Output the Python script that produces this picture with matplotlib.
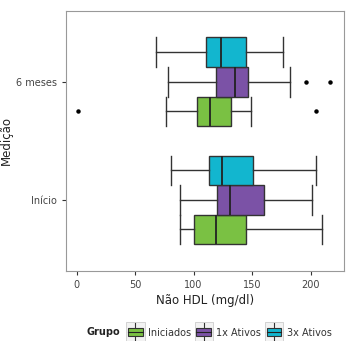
import matplotlib
matplotlib.use("Agg")
import matplotlib.pyplot as plt
from matplotlib.legend_handler import HandlerBase
from matplotlib.patches import Rectangle
from matplotlib.lines import Line2D

# boxplot summaries (mg/dl)
momentos = ["Início", "6 meses"]
grupos = ["Iniciados", "1x Ativos", "3x Ativos"]
cores = ["#7ac143", "#7b52a6", "#12b6cf"]

# [whislo, q1, med, q3, whishi] per momento, per grupo
iniciados = [[88, 100, 119.5, 145, 210], [76, 103, 114, 132, 149]]
ativos_1x = [[88, 120, 131.5, 160, 201.5], [78, 119, 135.5, 146.5, 182]]
ativos_3x = [[80.5, 113, 124, 150.5, 205], [67.5, 111, 123.5, 145, 176.5]]
outliers = {
    "Iniciados": [[], [1, 205]],
    "1x Ativos": [[], [196.5, 217]],
    "3x Ativos": [[], []],
}
series = [iniciados, ativos_1x, ativos_3x]

fig = plt.figure(figsize=(3.46, 3.41), dpi=100)
ax = fig.add_axes([0.191, 0.206, 0.803, 0.762])

largura = 0.25
for g, (nome, cor, dados) in enumerate(zip(grupos, cores, series)):
    stats = []
    for m in range(len(momentos)):
        lo, q1, med, q3, hi = dados[m]
        stats.append(dict(whislo=lo, q1=q1, med=med, q3=q3, whishi=hi,
                          fliers=outliers[nome][m]))
    pos = [m + 1 + (g - 1) * largura for m in range(len(momentos))]
    ax.bxp(stats, positions=pos, widths=largura, orientation="horizontal",
           patch_artist=True, showcaps=True,
           boxprops=dict(facecolor=cor, edgecolor="#333333", linewidth=1.0),
           medianprops=dict(color="#222222", linewidth=1.3),
           whiskerprops=dict(color="#333333", linewidth=1.0),
           capprops=dict(color="#333333", linewidth=1.0),
           capwidths=largura,
           flierprops=dict(marker="o", markersize=2.2, markerfacecolor="black",
                           markeredgecolor="black"))

ax.set_xlim(-9, 228.5)
ax.set_ylim(0.4, 2.6)
ax.set_yticks([1, 2])
ax.set_yticklabels(momentos)
ax.set_xticks([0, 50, 100, 150, 200])
ax.tick_params(labelsize=7, length=3, color="#333333", labelcolor="#444444")
for s in ax.spines.values():
    s.set_color("#999999")
    s.set_linewidth(0.8)
ax.set_xlabel("Não HDL (mg/dl)", fontsize=8.5, color="#222222", labelpad=3)
ax.set_ylabel("Medição", fontsize=8.5, color="#222222")
ax.yaxis.set_label_coords(-0.19, 0.5)


class HandlerCaixa(HandlerBase):
    def create_artists(self, legend, orig, xd, yd, w, h, fontsize, trans):
        s_w = w
        s_h = fontsize * 2.1
        x0 = xd
        y0 = yd + 0.05 * h - s_h / 2
        fundo = Rectangle((x0, y0), s_w, s_h, facecolor="#f2f2f2",
                          edgecolor="#cccccc", lw=0.6, transform=trans)
        caixa = Rectangle((x0 + s_w * 0.1, y0 + s_h * 0.3), s_w * 0.8,
                          s_h * 0.4, facecolor=orig.get_facecolor(),
                          edgecolor="#333333", lw=0.8, transform=trans)
        med = Line2D([x0 + s_w * 0.1, x0 + s_w * 0.9], [y0 + s_h * 0.5] * 2,
                     color="#222222", lw=0.8, transform=trans)
        bigode = Line2D([x0 + s_w / 2] * 2, [y0 + s_h * 0.08, y0 + s_h * 0.92],
                        color="#333333", lw=0.8, transform=trans)
        return [fundo, bigode, caixa, med]


handles = [Rectangle((0, 0), 1, 1, facecolor=c) for c in cores]
leg = fig.legend(handles, grupos, loc="center left",
                 bbox_to_anchor=(0.345, 0.025), ncol=3, frameon=False,
                 fontsize=7, handlelength=1.9, handleheight=1.6,
                 handletextpad=0.35, columnspacing=0.35, borderpad=0.2,
                 handler_map={Rectangle: HandlerCaixa()})
for t in leg.get_texts():
    t.set_color("#333333")
fig.text(0.25, 0.025, "Grupo", fontsize=7, fontweight="bold", va="center",
         color="#222222")

fig.savefig("out.png", dpi=100)
